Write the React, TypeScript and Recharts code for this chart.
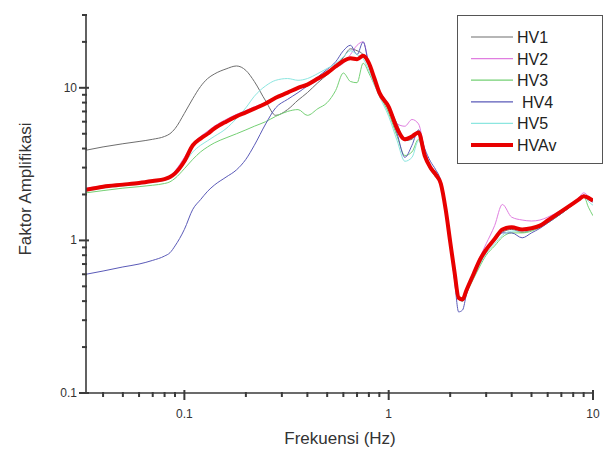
import React from 'react';
import { LineChart, Line, XAxis, YAxis, Legend } from 'recharts';

// Frequencies (Hz)
const freqs = [
  0.033, 0.04, 0.05, 0.06, 0.07, 0.08, 0.085, 0.09,
  0.1, 0.11, 0.12, 0.13, 0.14, 0.16, 0.18, 0.2, 0.22, 0.25, 0.28, 0.32, 0.36, 0.4, 0.45, 0.5, 0.55, 0.6, 0.65, 0.7, 0.75, 0.8, 0.85, 0.9,
  1.0, 1.1, 1.2, 1.3, 1.4, 1.5, 1.6, 1.7, 1.8, 1.9, 2.0, 2.1, 2.2, 2.3, 2.4, 2.6, 2.8, 3.0, 3.3, 3.6,
  4.0, 4.5, 5.0, 5.5, 6.0, 7.0, 8.0, 8.5, 9.0, 9.5, 10,
];

const hv1 = [
  3.9, 4.1, 4.3, 4.45, 4.6, 4.8, 5.0, 5.4,
  6.8, 8.5, 10.2, 11.5, 12.3, 13.3, 13.9, 13.0, 11.0, 8.2, 6.6, 7.2, 8.3, 9.3, 10.8, 12.2, 13.8, 15.8, 18.0, 17.5, 16.5, 14.0, 11.2, 9.6,
  7.6, 5.8, 4.5, 4.6, 5.2, 3.8, 3.1, 2.75, 2.4, 1.65, 1.0, 0.62, 0.43, 0.4, 0.46, 0.59, 0.73, 0.85, 1.0, 1.13,
  1.18, 1.13, 1.17, 1.22, 1.32, 1.5, 1.72, 1.85, 1.98, 1.92, 1.8,
];

const hv2 = [
  2.2, 2.28, 2.35, 2.4, 2.47, 2.55, 2.62, 2.85,
  3.5, 4.3, 4.8, 5.2, 5.6, 6.2, 6.7, 7.1, 7.5, 8.0, 8.5, 9.2, 9.8, 10.3, 11.2, 12.3, 13.5, 14.5, 16.5, 19.0, 20.0, 14.5, 11.5, 9.6,
  7.8, 5.8, 5.6, 6.2, 5.8, 3.9, 3.1, 2.75, 2.4, 1.6, 0.98, 0.6, 0.42, 0.4, 0.47, 0.62, 0.78, 0.95, 1.25, 1.72,
  1.42, 1.36, 1.34, 1.36, 1.42, 1.58, 1.78, 1.9, 2.05, 1.95, 1.85,
];

const hv3 = [
  2.05, 2.12, 2.2, 2.25, 2.3, 2.36, 2.42, 2.55,
  2.95, 3.4, 3.8, 4.1, 4.35, 4.7, 5.0, 5.3, 5.6, 6.0, 6.5, 7.0, 7.2, 6.6, 7.3, 8.0, 9.6, 12.5, 11.0, 10.8, 14.5, 12.5, 10.5, 9.0,
  6.8, 4.8, 3.6, 3.8, 4.6, 3.5, 2.9, 2.6, 2.3, 1.55, 0.95, 0.6, 0.42, 0.4, 0.45, 0.56, 0.68, 0.8, 0.92, 1.05,
  1.12, 1.12, 1.15, 1.22, 1.3, 1.5, 1.72, 1.85, 1.95, 1.65, 1.45,
];

const hv4 = [
  0.6, 0.63, 0.67, 0.7, 0.74, 0.79, 0.83, 0.92,
  1.18, 1.6, 1.85, 2.1, 2.3, 2.6, 2.9, 3.4, 4.2, 5.8, 7.4, 8.4, 9.3, 10.3, 11.8, 13.2, 14.8, 17.5, 19.0, 16.5, 20.0, 14.0, 11.0, 9.5,
  7.2, 5.0, 3.5, 4.2, 5.3, 4.0, 3.3, 2.9, 2.45, 1.6, 0.95, 0.55, 0.34, 0.35, 0.44, 0.58, 0.72, 0.85, 1.0, 1.12,
  1.12, 1.04, 1.12, 1.2, 1.3, 1.5, 1.72, 1.82, 1.92, 1.85, 1.78,
];

const hv5 = [
  2.1, 2.2, 2.27, 2.33, 2.4, 2.47, 2.55, 2.75,
  3.2, 3.8, 4.2, 4.5, 4.8, 5.4, 6.3, 7.4, 8.8, 10.3, 11.2, 11.5, 11.2, 11.5, 12.4, 13.4, 14.4, 16.0, 17.5, 16.5, 15.5, 13.0, 10.5, 8.8,
  6.5, 4.5, 3.3, 3.5, 4.5, 3.5, 2.9, 2.6, 2.3, 1.55, 0.95, 0.6, 0.41, 0.4, 0.46, 0.58, 0.7, 0.82, 0.95, 1.08,
  1.15, 1.15, 1.17, 1.22, 1.32, 1.52, 1.74, 1.86, 1.96, 1.8, 1.7,
];

const hvAv = [
  2.15, 2.25, 2.32, 2.38, 2.45, 2.52, 2.6, 2.75,
  3.3, 4.2, 4.65, 5.0, 5.4, 6.0, 6.5, 6.9, 7.3, 7.9, 8.6, 9.3, 10.0, 10.5, 11.5, 12.5, 13.8, 15.0, 15.6, 15.4, 16.2, 14.5, 11.6, 9.3,
  7.5, 5.4, 4.6, 4.8, 5.1, 3.6, 3.0, 2.7, 2.35, 1.6, 0.98, 0.62, 0.42, 0.41, 0.47, 0.6, 0.75, 0.87, 1.02, 1.18,
  1.22, 1.18, 1.2, 1.25, 1.35, 1.55, 1.75, 1.85, 1.95, 1.9, 1.82,
];

const seriesNames = ['HV1', 'HV2', 'HV3', 'HV4', 'HV5', 'HVAv'];
const seriesValues = [hv1, hv2, hv3, hv4, hv5, hvAv];
const seriesColors = ['#6e6e6e', '#e07ee0', '#74d074', '#5a5ab8', '#8ce6e0', '#e80000'];
const seriesWidths = [1, 1, 1, 1, 1, 4];
const legendLabels = ['HV1', 'HV2', 'HV3', ' HV4', 'HV5', 'HVAv'];

const xMajorTicks = [0.1, 1, 10];
const xMinorTicks = [0.04, 0.05, 0.06, 0.07, 0.08, 0.09, 0.2, 0.3, 0.4, 0.5, 0.6, 0.7, 0.8, 0.9, 2, 3, 4, 5, 6, 7, 8, 9];
const yMajorTicks = [0.1, 1, 10];
const yMinorTicks = [0.2, 0.3, 0.4, 0.5, 0.6, 0.7, 0.8, 0.9, 2, 3, 4, 5, 6, 7, 8, 9, 20, 30];

const data = freqs.map((f, i) => {
  const row: Record<string, number> = { f };
  seriesNames.forEach((n, k) => {
    row[n] = seriesValues[k][i];
  });
  return row;
});

const FONT = '"Liberation Sans", Arial, sans-serif';
const AXIS = '#3a3a3a';

const XTick = (props: any) => {
  const { x, y, payload } = props;
  const major = xMajorTicks.includes(payload.value);
  return (
    <g>
      <path d={`M${x},${major ? y - 3 : y - 1}V${major ? y + 7 : y + 4}`} stroke={AXIS} strokeWidth={2} fill="none" />
      {major && (
        <text x={x} y={y + 25} textAnchor="middle" fontSize={12} fill="#333" fontFamily={FONT}>
          {String(payload.value)}
        </text>
      )}
    </g>
  );
};

const YTick = (props: any) => {
  const { x, y, payload } = props;
  const major = yMajorTicks.includes(payload.value);
  return (
    <g>
      <path d={`M${major ? x + 3 : x + 1},${y}H${major ? x - 7 : x - 4}`} stroke={AXIS} strokeWidth={2} fill="none" />
      {major && (
        <text x={x - 9} y={y + 4} textAnchor="end" fontSize={12} fill="#333" fontFamily={FONT}>
          {String(payload.value)}
        </text>
      )}
    </g>
  );
};

const YLabel = () => (
  <text
    x={25}
    y={189}
    transform="rotate(-90 25 189)"
    textAnchor="middle"
    dominantBaseline="central"
    fontSize={17}
    fill="#333"
    fontFamily={FONT}
  >
    Faktor Amplifikasi
  </text>
);

const XLabel = () => (
  <text x={340} y={444} textAnchor="middle" fontSize={17} fill="#333" fontFamily={FONT}>
    Frekuensi (Hz)
  </text>
);

const renderLegend = () => (
  <div
    style={{
      width: 146,
      height: 149,
      border: '1.5px solid #555',
      boxSizing: 'border-box',
      background: '#fff',
    }}
  >
    <svg width={143} height={146}>
      {seriesNames.map((n, i) => {
        const cy = 21 + i * 21.6;
        return (
          <g key={n}>
            <line x1={13} x2={55} y1={cy} y2={cy} stroke={seriesColors[i]} strokeWidth={seriesWidths[i] === 1 ? 1.2 : 4} />
            <text
              x={legendLabels[i].startsWith(' ') ? 64 : 59}
              y={cy + 6}
              fontSize={16}
              fill="#222"
              fontFamily={FONT}
            >
              {legendLabels[i].trim()}
            </text>
          </g>
        );
      })}
    </svg>
  </div>
);

export default function App() {
  return (
    <div style={{ position: 'absolute', left: 0, top: 0, width: 612, height: 449, background: '#fff' }}>
      <LineChart width={612} height={449} data={data} margin={{ top: 15, right: 19, bottom: 0, left: 0 }}>
        <XAxis
          dataKey="f"
          type="number"
          scale="log"
          domain={[0.033, 10]}
          allowDataOverflow
          ticks={[...xMinorTicks, ...xMajorTicks].sort((a, b) => a - b)}
          interval={0}
          tick={XTick}
          tickLine={false}
          tickSize={0}
          tickMargin={0}
          height={56}
          axisLine={{ stroke: AXIS, strokeWidth: 1.6 }}
          label={<XLabel />}
        />
        <YAxis
          type="number"
          scale="log"
          domain={[0.1, 30]}
          allowDataOverflow
          ticks={[...yMinorTicks, ...yMajorTicks].sort((a, b) => a - b)}
          interval={0}
          tick={YTick}
          tickLine={false}
          tickSize={0}
          tickMargin={0}
          width={86}
          axisLine={{ stroke: AXIS, strokeWidth: 1.6 }}
          label={<YLabel />}
        />
        <Legend
          layout="horizontal"
          verticalAlign="middle"
          align="center"
          content={renderLegend}
          wrapperStyle={{ left: 457, top: 15, width: 146, height: 149 }}
        />
        {seriesNames.map((n, i) => (
          <Line
            key={n}
            dataKey={n}
            name={n}
            type="monotone"
            stroke={seriesColors[i]}
            strokeWidth={seriesWidths[i]}
            dot={false}
            activeDot={false}
            isAnimationActive={false}
          />
        ))}
      </LineChart>
    </div>
  );
}
